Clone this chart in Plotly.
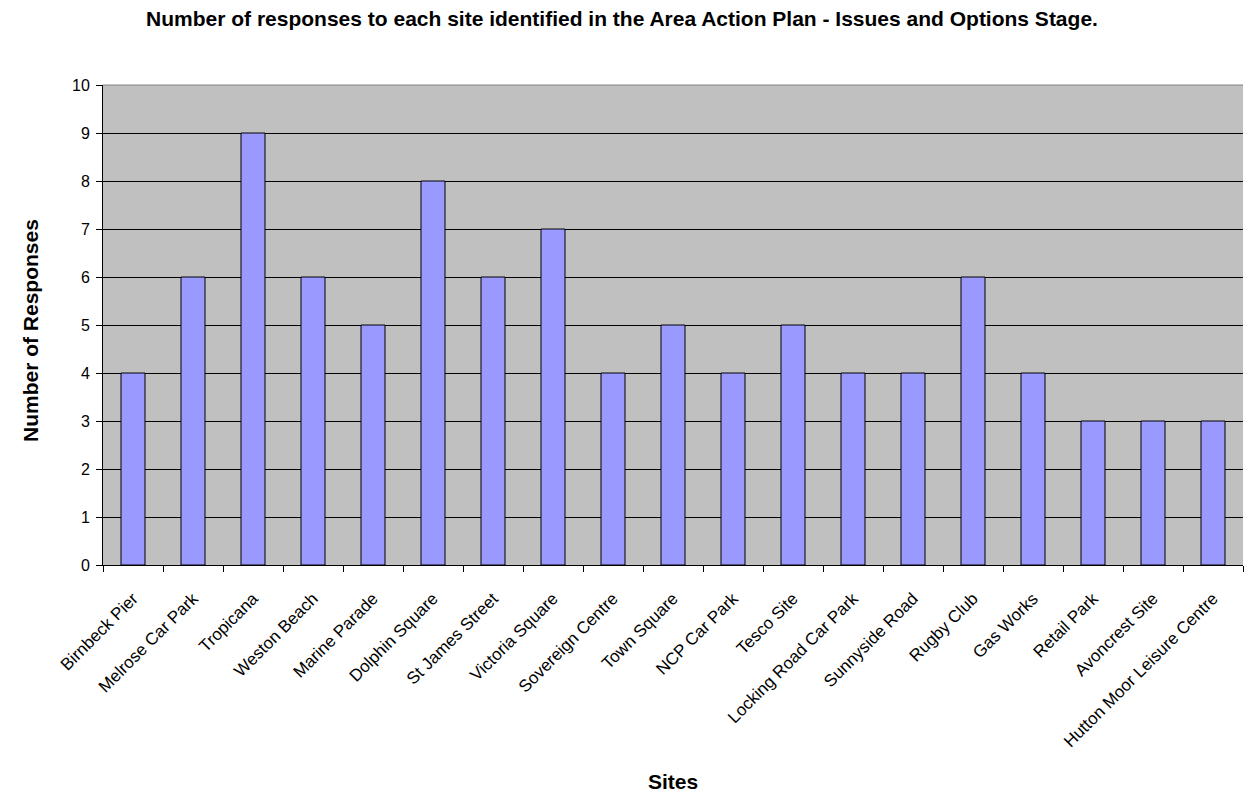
import plotly.graph_objects as go

sites = [
    "Birnbeck Pier", "Melrose Car Park", "Tropicana", "Weston Beach",
    "Marine Parade", "Dolphin Square", "St James Street", "Victoria Square",
    "Sovereign Centre", "Town Square", "NCP Car Park", "Tesco Site",
    "Locking Road Car Park", "Sunnyside Road", "Rugby Club", "Gas Works",
    "Retail Park", "Avoncrest Site", "Hutton Moor Leisure Centre",
]
responses = [4, 6, 9, 6, 5, 8, 6, 7, 4, 5, 4, 5, 4, 4, 6, 4, 3, 3, 3]
y_ticks = list(range(0, 11))

fig = go.Figure(
    go.Bar(
        x=sites,
        y=responses,
        marker=dict(color="#9999FF", line=dict(color="black", width=1)),
        width=0.4,
    )
)

font_family = "Liberation Sans, Arial, sans-serif"

fig.update_layout(
    width=1244,
    height=796,
    margin=dict(l=103, r=1, t=85, b=231),
    paper_bgcolor="white",
    plot_bgcolor="#C0C0C0",
    showlegend=False,
    font=dict(family=font_family, size=16, color="black"),
    title=dict(
        text="<b>Number of responses to each site identified in the Area Action Plan - Issues and Options Stage.</b>",
        x=0.5,
        xanchor="center",
        y=0.977,
        yanchor="middle",
        font=dict(family=font_family, size=21, color="black"),
    ),
)

fig.update_xaxes(
    type="category",
    tickangle=-45,
    tickson="boundaries",
    ticks="outside",
    ticklen=6,
    tickcolor="black",
    showline=True,
    linecolor="black",
    linewidth=1,
    showgrid=False,
    tickfont=dict(size=17),
    ticklabelstandoff=16,
)

fig.update_yaxes(
    range=[0, 10],
    tickvals=y_ticks,
    ticks="outside",
    ticklen=6,
    tickcolor="black",
    showline=True,
    linecolor="black",
    linewidth=1,
    showgrid=True,
    gridcolor="black",
    gridwidth=1,
    zeroline=False,
    tickfont=dict(size=16),
    ticklabelstandoff=3,
)

# axis titles
fig.add_annotation(
    text="<b>Sites</b>", xref="paper", yref="paper", x=0.5, y=-0.45,
    xanchor="center", yanchor="middle", showarrow=False,
    font=dict(size=21, family=font_family),
)
fig.add_annotation(
    text="<b>Number of Responses</b>", xref="paper", yref="paper", x=-0.064, y=0.4875,
    xanchor="center", yanchor="middle", showarrow=False, textangle=-90,
    font=dict(size=21, family=font_family),
)

# grey top edge of the plotting area
fig.add_shape(
    type="line", xref="paper", yref="paper", x0=0, x1=1, y0=1, y1=1,
    line=dict(color="#808080", width=1), layer="above",
)

fig.write_html("out.html")
